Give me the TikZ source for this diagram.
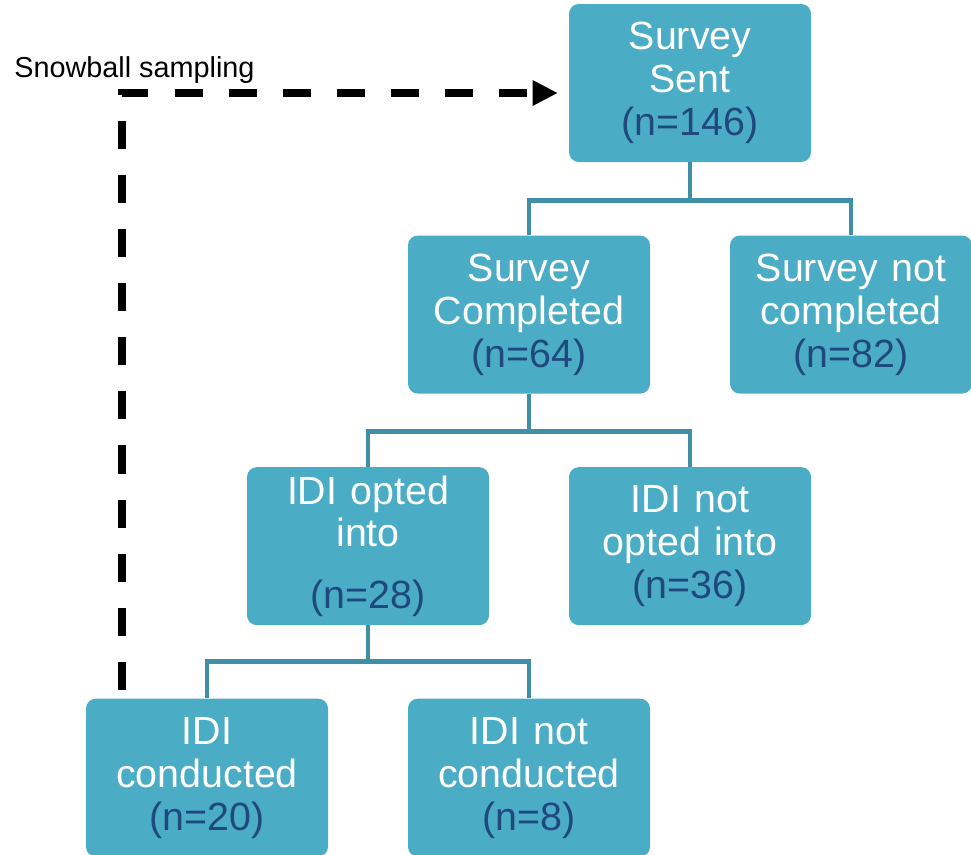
\documentclass[tikz,border=0pt]{standalone}
\usepackage{fontspec}
\setmainfont{Liberation Sans}
\usepackage{xcolor}
\usepackage{tikz}
\usetikzlibrary{positioning,arrows.meta}

\definecolor{boxfill}{HTML}{4BACC6}
\definecolor{linkcol}{HTML}{3F8FA8}
\definecolor{nblue}{HTML}{1F497D}
\newcommand{\nval}[1]{\textcolor{nblue}{(n=#1)}}

\begin{document}
\begin{tikzpicture}[node distance=1.825cm,
    box/.style={rectangle, rounded corners=7pt, fill=boxfill, text=white,
      minimum width=6.05cm, minimum height=3.95cm, inner sep=1pt,
      text width=5.9cm, align=center,
      font=\fontsize{28}{30.5}\selectfont},
    link/.style={draw=linkcol, line width=3.5pt},
    snowball/.style={line width=5pt, dash pattern=on 20pt off 18.5pt,
      -{Triangle[length=18pt,width=17pt]}}]
        \useasboundingbox (0,0) rectangle (24.275,-21.35);

        \node[box] (sent) at (17.25,-2.075) {Survey\\Sent\\\nval{146}};
        \node[box] (done) [below=of sent, xshift=-4.025cm] {Survey\\Completed\\\nval{64}};
        \node[box] (notdone) [below=of sent, xshift=4.025cm] {Survey not\\completed\\\nval{82}};
        \node[box] (opted) [below=of done, xshift=-4.025cm] {IDI opted\\into\\[0.47cm]\nval{28}};
        \node[box] (notopted) [below=of done, xshift=4.025cm] {IDI not\\opted into\\\nval{36}};
        \node[box] (conducted) [below=of opted, xshift=-4.025cm] {IDI\\conducted\\\nval{20}};
        \node[box] (notconducted) [below=of opted, xshift=4.025cm] {IDI not\\conducted\\\nval{8}};

        % tree connectors
        \draw[link] (sent.south) -- ++(0,-0.95) -| (done.north);
        \draw[link] (sent.south) -- ++(0,-0.95) -| (notdone.north);
        \draw[link] (done.south) -- ++(0,-0.95) -| (opted.north);
        \draw[link] (done.south) -- ++(0,-0.95) -| (notopted.north);
        \draw[link] (opted.south) -- ++(0,-0.9) -| (conducted.north);
        \draw[link] (opted.south) -- ++(0,-0.9) -| (notconducted.north);

        % snowball loop
        \coordinate (snow) at (3.05,-17.25);
        \node[anchor=base west, inner sep=0pt, font=\fontsize{20.5}{24}\selectfont] (snowlbl) at (0.35,-1.925) {Snowball sampling};
        \draw[snowball] (snow) |- ([xshift=-0.27cm,yshift=-0.25cm]sent.west);
\end{tikzpicture}
\end{document}
